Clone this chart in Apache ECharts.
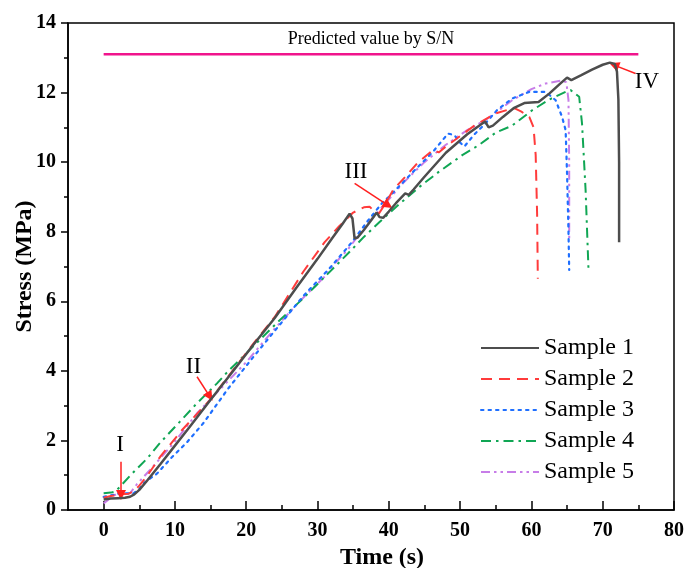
<!DOCTYPE html>
<html>
<head>
<meta charset="utf-8">
<script src="https://cdn.jsdelivr.net/npm/echarts@6/dist/echarts.min.js"></script>
<style>
html,body{margin:0;padding:0;background:#fff;}
#chart{width:686px;height:568px;}
</style>
</head>
<body>
<div id="chart"></div>
<script>
// ---- data (time s, stress MPa) ----
const sample1 = [[0,0.3],[1,0.33],[2,0.34],[3,0.35],[3.7,0.38],[4.3,0.45],[5,0.58],[6,0.82],[8,1.33],[10,1.85],[12,2.37],[15,3.17],[18,3.95],[21,4.75],[24,5.52],[27,6.38],[30,7.22],[32,7.8],[33.5,8.22],[34.5,8.52],[34.9,8.38],[35.2,7.8],[35.6,7.83],[36.5,8.05],[37.5,8.32],[38.3,8.55],[38.7,8.42],[39.2,8.4],[40,8.58],[41,8.82],[42.3,9.1],[42.8,9.06],[43.5,9.22],[45,9.58],[48,10.27],[51,10.8],[53.5,11.17],[54,11.0],[54.6,11.05],[56,11.3],[57.5,11.55],[59,11.7],[61,11.73],[62.5,11.97],[64,12.25],[65,12.43],[65.6,12.36],[67,12.5],[68.5,12.66],[70,12.8],[71,12.86],[71.7,12.82],[72.0,12.6],[72.2,11.8],[72.3,10],[72.3,7.7]];
const sample2 = [[0,0.35],[1,0.4],[2.3,0.45],[3.5,0.47],[4.3,0.55],[5,0.7],[6,0.95],[8,1.55],[11,2.3],[15,3.18],[18,3.98],[21,4.78],[24,5.55],[28,6.85],[31,7.7],[33,8.15],[35,8.55],[36.5,8.7],[37.3,8.72],[37.8,8.62],[38.6,8.52],[39.5,8.8],[40.6,9.2],[42.4,9.6],[44,9.97],[46.2,10.35],[47,10.28],[48,10.45],[50,10.75],[52,11.05],[55,11.4],[56.6,11.5],[57.6,11.55],[58.6,11.45],[59.7,11.3],[60.3,11.0],[60.6,10.2],[60.8,8.5],[60.9,6.65]];
const sample3 = [[0,0.38],[1,0.42],[2.3,0.48],[4.2,0.48],[5,0.6],[5.6,0.77],[7.5,1.05],[9.5,1.5],[11.7,1.95],[14,2.5],[17.5,3.5],[21,4.4],[25,5.4],[28,6.15],[31.7,6.95],[34.3,7.57],[35.2,7.8],[37,8.3],[39.2,8.86],[40.1,9.02],[43.4,9.72],[46.2,10.3],[48.3,10.82],[49.2,10.78],[49.9,10.58],[50.6,10.45],[52,10.8],[53.5,11.1],[55.2,11.5],[57.3,11.83],[59.7,12.02],[62,12.02],[63.4,11.78],[64.3,11.3],[64.8,10.92],[65,9.67],[65.2,8],[65.3,6.9]];
const sample4 = [[0,0.48],[1,0.5],[1.6,0.53],[2.3,0.67],[4,1.05],[6.1,1.48],[8,1.95],[10.7,2.54],[13,3.05],[15.9,3.64],[17.5,4.0],[19,4.3],[21.9,4.89],[24.5,5.42],[27.5,5.99],[31,6.7],[34.3,7.38],[36.5,7.85],[38.7,8.28],[41.5,8.8],[44.3,9.29],[47,9.72],[50.3,10.2],[52.7,10.5],[55,10.85],[57.3,11.05],[60.1,11.49],[62.5,11.8],[64.8,12.02],[65.5,12.07],[66.7,11.88],[67.1,11.11],[67.6,9.2],[68,6.95]];
const sample5 = [[0,0.19],[0.7,0.3],[1.4,0.43],[3.7,0.48],[4.7,0.75],[6.5,1.15],[9.8,1.92],[13.1,2.78],[17.5,3.72],[20,4.25],[23.8,5.17],[27.5,6.0],[31.2,6.75],[32.2,7.04],[34.3,7.5],[36.3,8.05],[39.1,8.72],[42,9.4],[45,10.0],[48,10.5],[51,10.92],[53.6,11.22],[55.5,11.5],[57.3,11.78],[60,12.1],[62,12.26],[64.1,12.34],[64.9,12.3],[65.2,11.78],[65.3,10],[65.3,7.76]];
const predicted = [[0,13.1],[75,13.1]];
const seriesNames = ['Sample 1','Sample 2','Sample 3','Sample 4','Sample 5'];
const xMajorTicks = [0,10,20,30,40,50,60,70,80];
const xMinorTicks = [5,15,25,35,45,55,65,75];
// annotations: [label, labelPos, arrowFrom, arrowTo]
const annotations = [
  ['I',   [2.3,1.87],  [2.43,1.39], [2.43,0.43]],
  ['II',  [12.6,4.12], [13.1,3.83], [14.9,3.26]],
  ['III', [35.4,9.72], [35.2,9.39], [39.9,8.76]],
  ['IV',  [76.2,12.3], [74.6,12.55],[71.6,12.79]]
];

const serif = '"Liberation Serif","Times New Roman",serif';
const black = '#000';
const colors = ['#4d4d4d','#ff3b3b','#1f6fff','#10a654','#c77de8'];
const dashes = ['solid',[11,7],[2.5,5],[10,5,2.5,5],[9,4,2.5,4,2.5,4]];
const widths = [2.5,2,2.2,2,2];
const datas = [sample1,sample2,sample3,sample4,sample5];

const series = datas.map((d,i)=>({
  name: seriesNames[i], type:'line', data:d, showSymbol:false, symbol:'none',
  xAxisIndex:0, z: i===0 ? 5 : 3 - i*0.1,
  lineStyle:{color:colors[i], width:widths[i], type:dashes[i], cap: i===2?'round':'butt'},
  itemStyle:{color:colors[i]},
  emphasis:{disabled:true}, silent:true
}));

series.push({
  name:'Predicted', type:'line', data:predicted, showSymbol:false, symbol:'none',
  xAxisIndex:0, lineStyle:{color:'#f0148c', width:2.5}, itemStyle:{color:'#f0148c'},
  emphasis:{disabled:true}, silent:true, z:2,
  markLine:{
    silent:true, symbol:['none','triangle'], symbolSize:10,
    label:{show:false}, emphasis:{disabled:true},
    lineStyle:{color:'#ff1f1f', width:1.5, type:'solid'},
    itemStyle:{color:'#ff1f1f'},
    data: annotations.map(a=>[{coord:a[2]},{coord:a[3]}])
  },
  markPoint:{
    silent:true, symbol:'circle', symbolSize:0,
    label:{show:true, position:'inside', color:black, fontFamily:serif, fontSize:23},
    data: annotations.map(a=>({coord:a[1], value:a[0], label:{formatter:a[0]}})).concat([
      {coord:[37.5,13.1], value:'p', label:{formatter:'Predicted value by S/N', position:'top', distance:6, fontSize:18}}
    ])
  }
});

const chart = echarts.init(document.getElementById('chart'), null, {renderer:'canvas'});
chart.setOption({
  animation:false,
  backgroundColor:'#fff',
  grid:{left:68, right:12, top:23, bottom:58, show:true, borderColor:black, borderWidth:1.5, backgroundColor:'transparent', containLabel:false, outerBoundsMode:'none'},
  legend:{
    orient:'vertical', left:480, top:336, padding:0, itemWidth:58, itemHeight:14, itemGap:7, itemTextGap:7,
    data:seriesNames, textStyle:{fontFamily:serif, fontSize:24, color:black, lineHeight:24},
    itemStyle:{opacity:0}, selectedMode:false
  },
  xAxis:[{
    type:'value', min:-5, max:80,
    axisLine:{show:true, onZero:false, lineStyle:{color:black, width:1.5}},
    axisTick:{show:true, inside:true, length:9, customValues:xMajorTicks, lineStyle:{color:black, width:1.5}},
    axisLabel:{customValues:xMajorTicks, fontFamily:serif, fontWeight:'bold', fontSize:20, color:black, margin:11},
    splitLine:{show:false},
    name:'Time (s)', nameLocation:'middle', nameGap:27,
    nameTextStyle:{fontFamily:serif, fontWeight:'bold', fontSize:24, color:black, padding:[0,0,0,22]}
  },{
    type:'value', min:-5, max:80, position:'bottom',
    axisLine:{show:false, onZero:false},
    axisTick:{show:true, inside:true, length:5, customValues:xMinorTicks, lineStyle:{color:black, width:1.5}},
    axisLabel:{show:false}, splitLine:{show:false}
  }],
  yAxis:{
    type:'value', min:0, max:14, interval:2,
    axisLine:{show:true, onZero:false, lineStyle:{color:black, width:1.5}},
    axisTick:{show:true, inside:false, length:7, lineStyle:{color:black, width:1.5}},
    minorTick:{show:true, splitNumber:2, length:4, lineStyle:{color:black, width:1.5}},
    axisLabel:{fontFamily:serif, fontWeight:'bold', fontSize:20, color:black, margin:12},
    splitLine:{show:false},
    name:'Stress (MPa)', nameLocation:'middle', nameGap:31, nameMoveOverlap:false,
    nameTextStyle:{fontFamily:serif, fontWeight:'bold', fontSize:24, color:black}
  },
  series:series
});
</script>
</body>
</html>
